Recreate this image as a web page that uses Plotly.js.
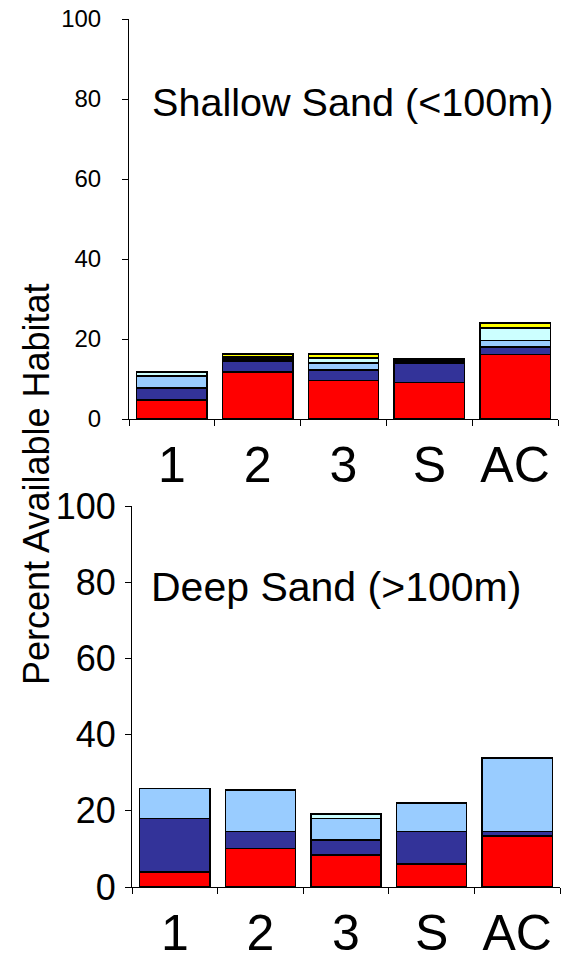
<!DOCTYPE html>
<html>
<head>
<meta charset="utf-8">
<script src="https://cdn.plot.ly/plotly-3.0.1.min.js"></script>
<style>html,body{margin:0;padding:0;background:#fff;}#chart{width:574px;height:962px;}</style>
</head>
<body>
<div id="chart"></div>
<script>
// Categories
var categories = ["1", "2", "3", "S", "AC"];

// Series names and colours (bottom to top of each stack)
var seriesNames = ["Red", "Navy", "Light blue", "Light cyan", "Black", "Yellow"];
var seriesColors = ["#FF0000", "#333399", "#99CCFF", "#CCFFFF", "#000000", "#FFFF00"];

// Shallow Sand (<100m) values
var shallowRed       = [4.8, 11.7, 9.6, 9.1, 16.1];
var shallowNavy      = [3.0, 2.7, 2.7, 4.8, 1.9];
var shallowLightBlue = [3.0, 0, 1.7, 0, 1.6];
var shallowCyan      = [1.0, 0, 1.1, 0, 3.0];
var shallowBlack     = [0, 1.1, 0.3, 1.1, 0.2];
var shallowYellow    = [0, 0.8, 0.9, 0, 1.2];

// Deep Sand (>100m) values
var deepRed       = [3.9, 10.1, 8.4, 6.1, 13.4];
var deepNavy      = [14.1, 4.5, 4.0, 8.5, 1.2];
var deepLightBlue = [7.9, 10.8, 5.6, 7.4, 19.3];
var deepCyan      = [0, 0, 1.2, 0, 0];
var deepBlack     = [0, 0, 0, 0, 0];
var deepYellow    = [0, 0, 0, 0, 0];

var yTicks = [0, 20, 40, 60, 80, 100];

var shallow = [shallowRed, shallowNavy, shallowLightBlue, shallowCyan, shallowBlack, shallowYellow];
var deep = [deepRed, deepNavy, deepLightBlue, deepCyan, deepBlack, deepYellow];

var font = "Arial, 'Liberation Sans', sans-serif";
var traces = [];
function addSet(set, xa, ya) {
  set.forEach(function (vals, i) {
    traces.push({
      type: "bar", x: categories, y: vals, name: seriesNames[i],
      xaxis: xa, yaxis: ya, showlegend: false,
      marker: {color: seriesColors[i], line: {color: "#000000", width: 1.5}},
      hoverinfo: "none"
    });
  });
}
addSet(shallow, "x", "y");
addSet(deep, "x2", "y2");

function xaxis(domain, anchor) {
  return {
    domain: domain, anchor: anchor, type: "category",
    showline: true, linecolor: "#000", linewidth: 1,
    ticks: "outside", tickson: "boundaries", ticklen: 6, tickcolor: "#000",
    tickfont: {family: font, size: 50, color: "#000"},
    ticklabelstandoff: 2,
    showgrid: false, zeroline: false, fixedrange: true
  };
}
function yaxis(domain, anchor, size, standoff) {
  return {
    domain: domain, anchor: anchor, range: [0, 100],
    tickvals: yTicks, ticktext: yTicks.map(String),
    showline: true, linecolor: "#000", linewidth: 1,
    ticks: "outside", ticklen: 6, tickcolor: "#000",
    tickfont: {family: font, size: size, color: "#000"},
    ticklabelstandoff: standoff,
    showgrid: false, zeroline: false, fixedrange: true
  };
}

var layout = {
  width: 574, height: 962,
  margin: {l: 0, r: 0, t: 0, b: 0},
  paper_bgcolor: "#fff", plot_bgcolor: "#fff",
  barmode: "stack", bargap: 0.18,
  showlegend: false,
  xaxis: xaxis([129/574, 558/574], "y"),
  yaxis: yaxis([1 - 419/962, 1 - 19/962], "x", 24, 16),
  xaxis2: xaxis([132/574, 560/574], "y2"),
  yaxis2: yaxis([1 - 887/962, 1 - 506/962], "x2", 36, 2),
  annotations: [
    {text: "Percent Available Habitat", xref: "paper", yref: "paper",
     x: 36/574, y: 1 - 484/962, textangle: -90, showarrow: false,
     xanchor: "center", yanchor: "middle",
     font: {family: font, size: 36, color: "#000"}},
    {text: "Shallow Sand (&lt;100m)", xref: "paper", yref: "paper",
     x: 150/574, y: 1 - 102/962, showarrow: false,
     xanchor: "left", yanchor: "middle",
     font: {family: font, size: 39.6, color: "#000"}},
    {text: "Deep Sand (&gt;100m)", xref: "paper", yref: "paper",
     x: 149/574, y: 1 - 587/962, showarrow: false,
     xanchor: "left", yanchor: "middle",
     font: {family: font, size: 41, color: "#000"}}
  ]
};

Plotly.newPlot("chart", traces, layout, {displayModeBar: false, staticPlot: true});
</script>
</body>
</html>
